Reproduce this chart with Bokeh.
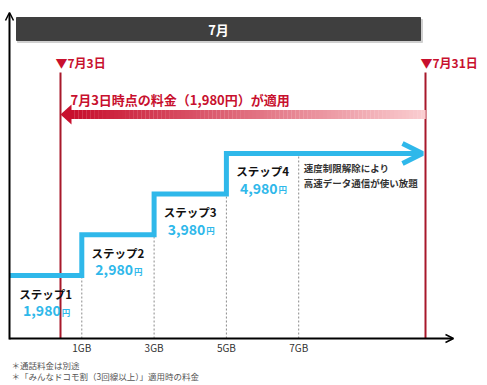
import numpy as np
from bokeh.plotting import figure
from bokeh.models import Range1d, Arrow, OpenHead
from bokeh.core.properties import value
from bokeh.embed import file_html
from bokeh.resources import INLINE

# ---------------- data ----------------
step_names = ["ステップ1", "ステップ2", "ステップ3", "ステップ4"]
step_prices = [1980, 2980, 3980, 4980]
price_texts = ["1,980", "2,980", "3,980", "4,980"]
yen_unit = "円"
gb_positions = [1, 2, 3, 4]
gb_labels = ["1GB", "3GB", "5GB", "7GB"]
month_label = "7月"
start_label = "▼7月3日"
end_label = "▼7月31日"
applied_label = "7月3日時点の料金（1,980円）が適用"
step4_note = ["速度制限解除により", "高速データ通信が使い放題"]
footnotes = ["＊通話料金は別途", "＊「みんなドコモ割（3回線以上）」適用時の料金"]

# ---------------- layout helpers (pixel -> data) ----------------
PX_X0 = 9.0       # pixel x of x=0 (vertical axis)
PX_PER_X = 72.3   # pixels per data-size step
PX_Y_REF = 275.0  # pixel y of first price level
PX_PER_YEN = 0.0407
W, H = 487, 385


def X(px):
    return (px - PX_X0) / PX_PER_X


def Y(py):
    return step_prices[0] + (PX_Y_REF - py) / PX_PER_YEN


FONT = value("Noto Sans CJK JP")
CYAN = "#2fb8ea"
RED = "#c8102e"
DARKRED = "#a8182b"

p = figure(width=W, height=H,
           x_range=Range1d(X(0), X(W)), y_range=Range1d(Y(H), Y(0)),
           x_axis_type=None, y_axis_type=None,
           toolbar_location=None, output_backend="svg",
           min_border_left=0, min_border_right=0, min_border_top=0,
           min_border_bottom=0, outline_line_color=None,
           background_fill_color="white", border_fill_color="white")

# header bar
p.quad(left=X(17), right=X(422), bottom=Y(42), top=Y(19), color="#d0d0d0")
p.quad(left=X(16), right=X(420), bottom=Y(40), top=Y(17), color="#3f3f3f")
p.text(x=[X(218)], y=[Y(29)], text=[month_label], text_font=FONT,
       text_font_style="bold", text_font_size="13px", text_color="white",
       text_align="center", text_baseline="middle")

# date markers
p.segment(x0=[X(60), X(425)], y0=Y(338), x1=[X(60), X(425)], y1=Y(72),
          line_color=DARKRED, line_width=2)
p.text(x=[X(55), X(420)], y=[Y(62), Y(62)], text=[start_label, end_label],
       text_font=FONT, text_font_style="bold", text_font_size="12px",
       text_color=RED, text_align="left", text_baseline="middle")

# gradient arrow (applied price)
n = 90
edges = np.linspace(X(70), X(425), n + 1)
c0 = np.array([200, 16, 46])
c1 = np.array([250, 205, 208])
cols = []
for t in np.linspace(0, 1, n):
    c = (c0 + (c1 - c0) * t).astype(int)
    cols.append("#%02x%02x%02x" % tuple(c))
p.quad(left=edges[:-1], right=edges[1:] + 0.003, bottom=Y(118.5), top=Y(109.5),
       color=cols, line_color=None)
p.patch(x=[X(60), X(71), X(71)], y=[Y(114), Y(104), Y(124)], color=RED,
        line_color=None)
p.text(x=[X(70)], y=[Y(99)], text=[applied_label], text_font=FONT,
       text_font_style="bold", text_font_size="13px", text_color=RED,
       text_align="left", text_baseline="middle")

# dashed guide lines at thresholds
p.segment(x0=gb_positions, y0=Y(338), x1=gb_positions, y1=step_prices,
          line_color="#8a8a8a", line_width=1, line_dash="2 2")

# step line
lefts = [0] + gb_positions[:len(step_prices) - 1]
rights = gb_positions[:len(step_prices) - 1] + [X(417)]
xs, ys = [], []
for l, r, pr in zip(lefts, rights, step_prices):
    xs += [l, r]
    ys += [pr, pr]
p.line(xs, ys, line_width=5, line_color=CYAN, line_join="miter")
p.add_layout(Arrow(end=OpenHead(size=20, line_color=CYAN, line_width=5),
                   x_start=X(400), y_start=step_prices[-1],
                   x_end=X(422), y_end=step_prices[-1], line_alpha=0))

# step labels
centers = [l + 0.5 for l in lefts]
p.text(x=centers, y=step_prices, text=step_names, y_offset=18,
       text_font=FONT, text_font_style="bold", text_font_size="11.5px",
       text_color="#111111", text_align="center", text_baseline="middle")
p.text(x=centers, y=step_prices, text=price_texts, x_offset=15, y_offset=35,
       text_font=FONT, text_font_style="bold", text_font_size="14px",
       text_color=CYAN, text_align="right", text_baseline="middle")
p.text(x=centers, y=step_prices, text=[yen_unit] * len(step_prices),
       x_offset=16, y_offset=36, text_font=FONT, text_font_style="bold",
       text_font_size="8.5px", text_color=CYAN, text_align="left",
       text_baseline="middle")

# step 4 note
p.text(x=[gb_positions[-1]] * 2, y=[step_prices[-1]] * 2, text=step4_note,
       x_offset=5, y_offset=[15, 30], text_font=FONT,
       text_font_size="9.5px", text_font_style="bold", text_color="#333333",
       text_align="left", text_baseline="middle")

# axes lines with arrows
p.add_layout(Arrow(end=OpenHead(size=8, line_width=1.5, line_color="black"),
                   x_start=0, y_start=Y(339), x_end=0, y_end=Y(12),
                   line_width=2, line_color="black"))
p.add_layout(Arrow(end=OpenHead(size=8, line_width=1.5, line_color="black"),
                   x_start=0, y_start=Y(338), x_end=X(453), y_end=Y(338),
                   line_width=2, line_color="black"))

# x tick labels (size thresholds)
p.text(x=gb_positions, y=[Y(338)] * len(gb_positions), text=gb_labels,
       y_offset=9, text_font=FONT, text_font_size="10px",
       text_color="#333333", text_align="center", text_baseline="middle")

# footnotes
p.text(x=[X(11)] * len(footnotes), y=[Y(364), Y(375)], text=footnotes,
       text_font=FONT, text_font_size="8.5px", text_color="#555555",
       text_align="left", text_baseline="middle")

open("out.html", "w").write(file_html(p, INLINE))
